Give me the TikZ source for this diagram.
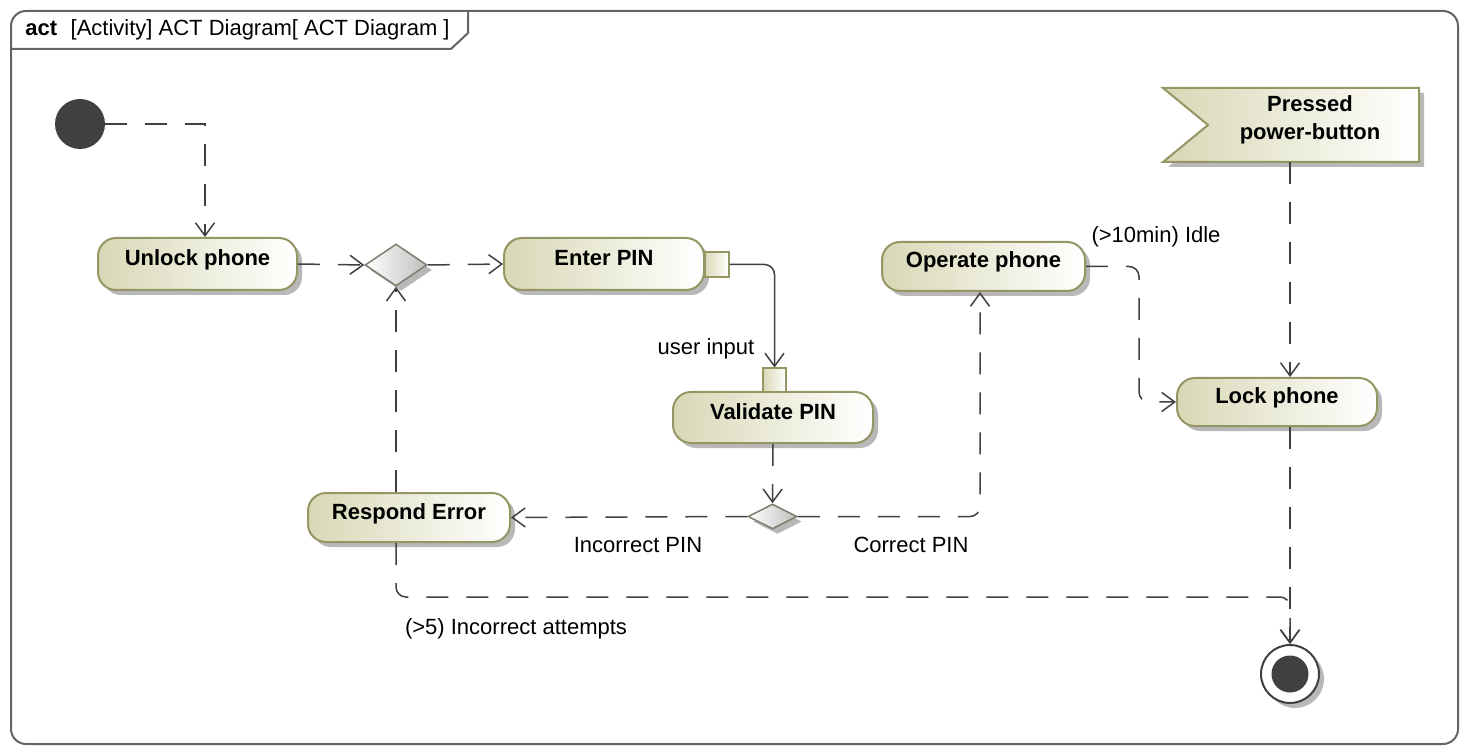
\documentclass[tikz,border=0pt]{standalone}
\usepackage{fontspec}
\setmainfont{Liberation Sans}
\usetikzlibrary{arrows.meta,shapes.geometric,shadows,calc}
\definecolor{actborder}{RGB}{150,150,100}
\definecolor{actfill}{RGB}{216,216,182}
\definecolor{edgecol}{RGB}{64,64,64}
\definecolor{initcol}{RGB}{64,64,64}
\definecolor{framecol}{RGB}{100,100,100}
\definecolor{decborder}{RGB}{125,125,110}
\begin{document}
\begin{tikzpicture}[x=0.5pt,y=-0.5pt,
  font=\fontsize{11}{13}\selectfont,
  shadowed/.style={drop shadow={shadow xshift=2.5pt,shadow yshift=-2.5pt,fill=black!28,opacity=1}},
  action/.style={draw=actborder,line width=1pt,rounded corners=9pt,left color=actfill,right color=white,
    shadowed,font=\fontsize{11}{13}\selectfont\bfseries,text height=8.5pt,text depth=7pt,inner sep=0pt},
  pinbox/.style={draw=actborder,line width=1pt,left color=actfill,right color=white,inner sep=0pt},
  decision/.style={diamond,draw=decborder,line width=0.75pt,left color=white,right color=black!25,inner sep=0pt,shadowed},
  flow/.style={draw=edgecol,line width=0.75pt,dash pattern=on 11pt off 9pt,rounded corners=5pt,
    -{Straight Barb[length=6.5pt,width=9.5pt]}},
  solidflow/.style={draw=edgecol,line width=0.75pt,rounded corners=5pt,-{Straight Barb[length=6.5pt,width=9.5pt]}},
  lbl/.style={inner sep=0pt,text=black}]
\useasboundingbox (0,0) rectangle (1468,754);
% frame
\draw[framecol,line width=1pt,rounded corners=7.5pt] (11,11) rectangle (1458,744);
\draw[framecol,line width=1pt] (11,49) -- (451,49) -- (468,33) -- (468,11);
\node[anchor=base west,inner sep=0pt] (title) at (25,36) {\textbf{act}\,\, [Activity] ACT Diagram[ ACT Diagram ]};
% actions
\node[action,minimum width=99.5pt,minimum height=26pt] (unlock) at (197.5,264) {Unlock phone};
\node[action,minimum width=100pt,minimum height=26pt] (enter) at (604,264) {Enter PIN};
\node[action,minimum width=100pt,minimum height=25.5pt] (validate) at (773,417.5) {Validate PIN};
\node[action,minimum width=101pt,minimum height=24.5pt] (respond) at (409,517.5) {Respond Error};
\node[action,minimum width=101.5pt,minimum height=24.5pt] (operate) at (983.5,266.5) {Operate phone};
\node[action,minimum width=100pt,minimum height=24pt] (lock) at (1277,402) {Lock phone};
% pins
\node[pinbox,minimum width=12pt,minimum height=12.5pt] (pout) at (716.5,264.5) {};
\node[pinbox,minimum width=11.5pt,minimum height=12pt] (pin) at (774.5,380.5) {};
% decisions
\node[decision,minimum width=31pt,minimum height=21pt] (d1) at (396,265) {};
\node[decision,minimum width=24.5pt,minimum height=12.5pt] (d2) at (772.5,516.5) {};
% initial / final
\node[circle,fill=initcol,minimum size=25pt,inner sep=0pt] (init) at (80,124) {};
\node[circle,draw=initcol,line width=1pt,fill=white,minimum size=29pt,inner sep=0pt,shadowed] (final) at (1290,674) {};
\node[circle,fill=initcol,minimum size=18.5pt,inner sep=0pt] (finalin) at (final) {};
% accept event
\path[draw=actborder,line width=1pt,left color=actfill,right color=white,shadowed]
  (1163,88) -- (1419,88) -- (1419,162) -- (1163,162) -- (1208,125) -- cycle;
\node[align=center,font=\fontsize{11}{14}\selectfont\bfseries,inner sep=0pt] (pressed) at (1310,120) {Pressed\\power-button};
\coordinate (pbout) at (1290,162);
% flows
\draw[flow,rounded corners=0pt] (init.east) -| ($(unlock.north)+(7.5,0)$);
\draw[flow] (unlock.east) -- (d1.west);
\draw[flow] (d1.east) -- (enter.west);
\draw[solidflow] (pout.east) -| (pin.north);
\draw[flow] (validate.south) -- (d2.north);
\draw[flow] (d2.west) -- (respond.east);
\draw[flow] (respond.north -| d1.south) -- (d1.south);
\draw[flow] (d2.east) -| ($(operate.south)+(-3.5,0)$);
\draw[flow] (operate.east) -| ($(lock.west)+(-37,0)$) -- (lock.west);
\draw[flow] (pbout) -- (pbout |- lock.north);
\draw[flow] (final.north |- lock.south) -- (final.north);
\draw[flow] (respond.south -| d1.south) -- ++(0,54) -| (final.north);
% labels
\node[lbl] (lui) at (706,349) {user input};
\node[lbl] (lidle) at (1156,237) {(>10min) Idle};
\node[lbl] (linc) at (638,545) {Incorrect PIN};
\node[lbl] (lcor) at (911,545) {Correct PIN};
\node[lbl] (latt) at (516,629) {(>5) Incorrect attempts};
\end{tikzpicture}
\end{document}
